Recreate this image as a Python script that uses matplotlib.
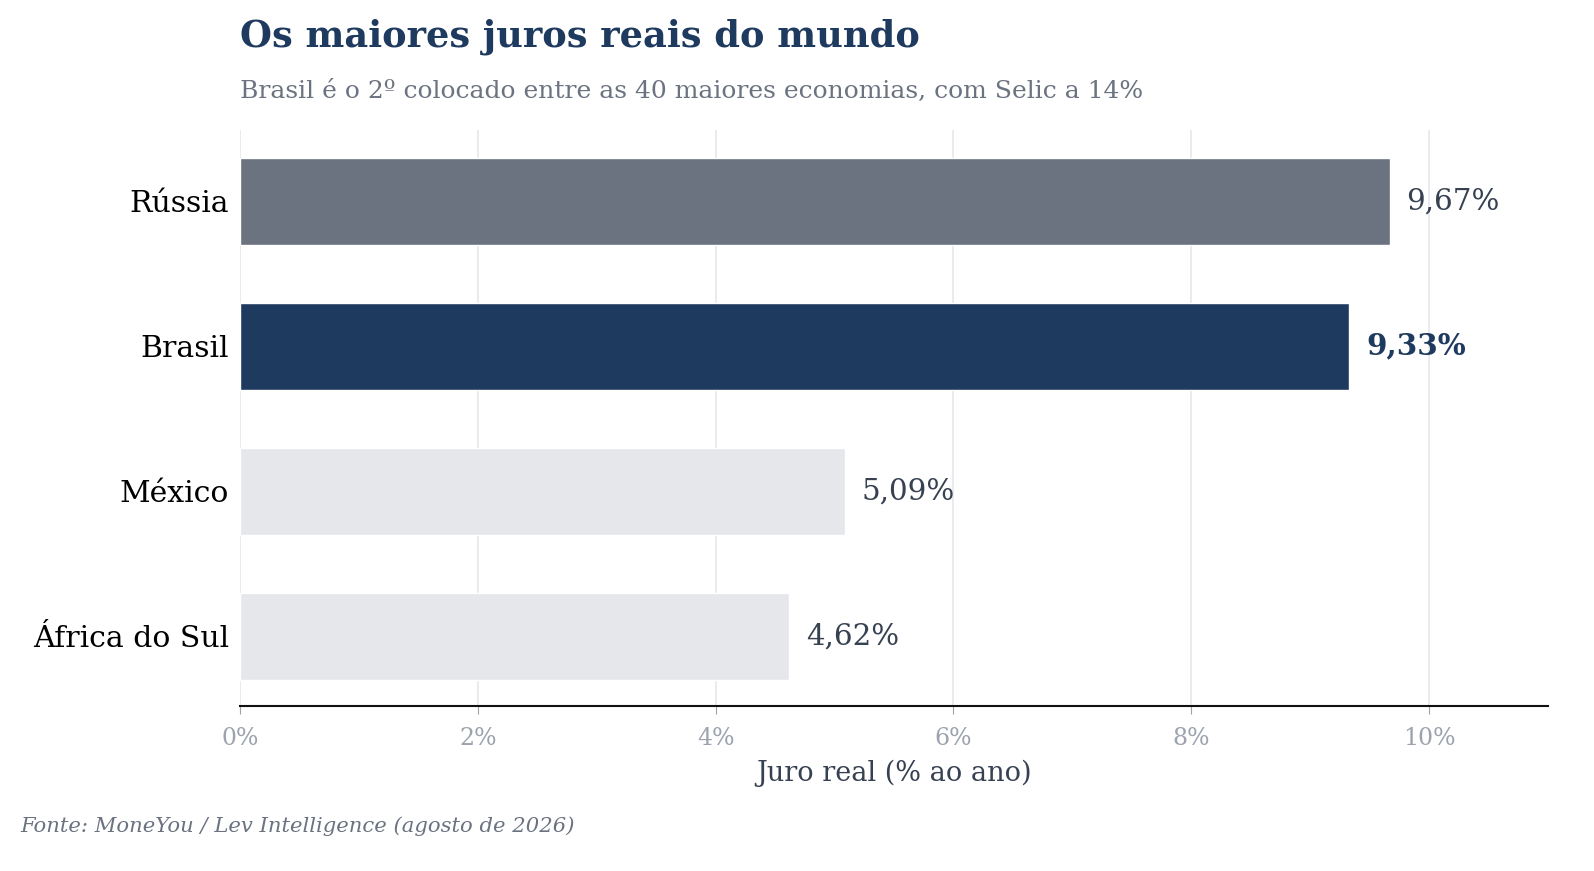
import matplotlib
matplotlib.use("Agg")
import matplotlib.pyplot as plt
from matplotlib.ticker import FuncFormatter

countries = ["Rússia", "Brasil", "México", "África do Sul"]
values = [9.67, 9.33, 5.09, 4.62]
value_labels = ["9,67%", "9,33%", "5,09%", "4,62%"]
bar_colors = ["#6b7280", "#1f3a5f", "#e5e7eb", "#e5e7eb"]
xticks = [0, 2, 4, 6, 8, 10]

plt.rcParams['font.family'] = ['DejaVu Serif']

fig = plt.figure(figsize=(15.94, 8.71), dpi=100)
ax = fig.add_axes([0.1506, 0.1894, 0.8205, 0.6613])

ypos = list(range(len(countries)))
ax.barh(ypos, values, height=0.6, color=bar_colors, edgecolor="white", linewidth=1, zorder=3)

for i, (v, lab) in enumerate(zip(values, value_labels)):
    is_br = countries[i] == "Brasil"
    ax.text(v + 0.14, i, lab, va="center", ha="left", fontsize=21.2,
            fontweight="bold" if is_br else "normal",
            color="#1f3a5f" if is_br else "#374151", zorder=4)

ax.set_xlim(0, 11)
ax.set_ylim(3.48, -0.49)
ax.set_yticks(ypos)
ax.set_yticklabels(countries, fontsize=21.5, color="black")
ax.tick_params(axis="y", length=0, pad=8)
ax.set_xticks(xticks)
ax.xaxis.set_major_formatter(FuncFormatter(lambda x, p: f"{int(x)}%"))
ax.tick_params(axis="x", labelsize=17, labelcolor="#9ca3af", color="#9ca3af", length=6, pad=9)
ax.grid(axis="x", color="#e5e7eb", linewidth=1.2, zorder=0)
ax.set_axisbelow(True)
for s in ["top", "right", "left"]:
    ax.spines[s].set_visible(False)
ax.spines["bottom"].set_color("#111111")
ax.spines["bottom"].set_linewidth(1.5)
ax.set_xlabel("Juro real (% ao ano)", fontsize=19.5, color="#374151", labelpad=7)

fig.text(240/1594, 1 - 37/871, "Os maiores juros reais do mundo", fontsize=26.5, fontweight="bold",
         color="#1f3a5f", ha="left", va="center")
fig.text(240/1594, 1 - 91/871, "Brasil é o 2º colocado entre as 40 maiores economias, com Selic a 14%",
         fontsize=18, color="#6b7280", ha="left", va="center")
fig.text(20/1594, 1 - 826/871, "Fonte: MoneYou / Lev Intelligence (agosto de 2026)", fontsize=15.2,
         style="italic", color="#6b7280", ha="left", va="center")

fig.savefig("out.png", dpi=100)
